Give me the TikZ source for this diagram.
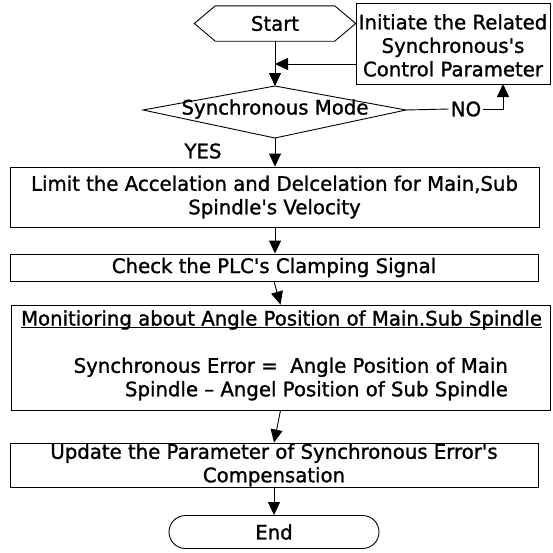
\documentclass[tikz,border=0pt]{standalone}
\usepackage{fontspec}
\setmainfont{DejaVu Sans}[FakeStretch=0.985, FakeBold=1.2]
\usetikzlibrary{arrows.meta,shapes.misc,calc}
\newcommand{\ap}{\textquotesingle}
\begin{document}
\begin{tikzpicture}[x=1pt,y=-1pt,
  every node/.style={font=\fontsize{20}{23.5}\selectfont, inner sep=0pt},
  box/.style={draw, line width=0.9pt, rectangle, align=center},
  conn/.style={line width=0.9pt},
  arr/.style={conn, -{Triangle[length=13pt,width=12pt]}}]
\useasboundingbox (0,0) rectangle (553,552);

% start terminal (hexagon)
\node[minimum width=161pt, minimum height=35pt] (start) at (275,23.5) {Start};
\draw[conn] (start.west) -- ([xshift=21pt]start.north west) -- ([xshift=-21pt]start.north east)
  -- (start.east) -- ([xshift=-21pt]start.south east) -- ([xshift=21pt]start.south west) -- cycle;

% parameter initialisation
\node[box, minimum width=194pt, minimum height=81pt] (init) at (453,43.5)
  {\rule{0pt}{19pt}Initiate the Related\\Synchronous\ap s\\Control Parameter};

% decision
\coordinate (dtop) at (275,86);
\coordinate (dright) at (406,110);
\coordinate (dbot) at (275,138);
\coordinate (dleft) at (143,110);
\draw[conn] (dtop) -- (dright) -- (dbot) -- (dleft) -- cycle;
\node (mode) at (275,109) {Synchronous Mode};

\draw[arr] (start.south) -- (dtop);
\coordinate (fb) at ($(init.west)+(0,20.5)$);
\draw[arr] (fb) -- (fb -| start.south);

\node[inner sep=2pt] (no) at (466,109) {NO};
\coordinate (noup) at (503,84);
\draw[conn] (dright) -- (no.west);
\draw[arr] (no.east) -| (noup);

\node (yes) at (203,151) {YES};

% process steps
\node[box, minimum width=529pt, minimum height=60pt] (limit) at (274.5,197)
  {Limit the Accelation and Delcelation for Main,Sub\\Spindle\ap s Velocity};
\draw[arr] (dbot) -- (dbot |- limit.north);

\node[box, minimum width=528pt, minimum height=27pt] (check) at (274,267.5)
  {Check the PLC\ap s Clamping Signal};
\draw[arr] (limit.south -| dbot) -- (dbot |- check.north);

\node[box, minimum width=539pt, minimum height=105pt] (mon) at (280.5,357.5) {};
\node (montitle) at (281.5,320) {Monitioring about Angle Position of Main.Sub Spindle};
\draw[conn] ($(montitle.base west)+(0,2)$) -- ($(montitle.base east)+(0,2)$);
\node[align=right, anchor=east] (monbody) at (508,379)
  {Synchronous Error =\ \ Angle Position of Main\\Spindle – Angel Position of Sub Spindle};
\draw[arr] (check.south) -- (mon.north);

\node[box, minimum width=528pt, minimum height=44pt] (update) at (274,465)
  {Update the Parameter of Synchronous Error\ap s\\Compensation};
\draw[arr] (mon.south) -- (update.north);

% end terminal
\node[draw, rounded rectangle, line width=0.9pt, minimum width=210pt, minimum height=33pt] (end) at (274,532) {End};
\draw[arr] (update.south) -- (end.north);
\end{tikzpicture}
\end{document}
